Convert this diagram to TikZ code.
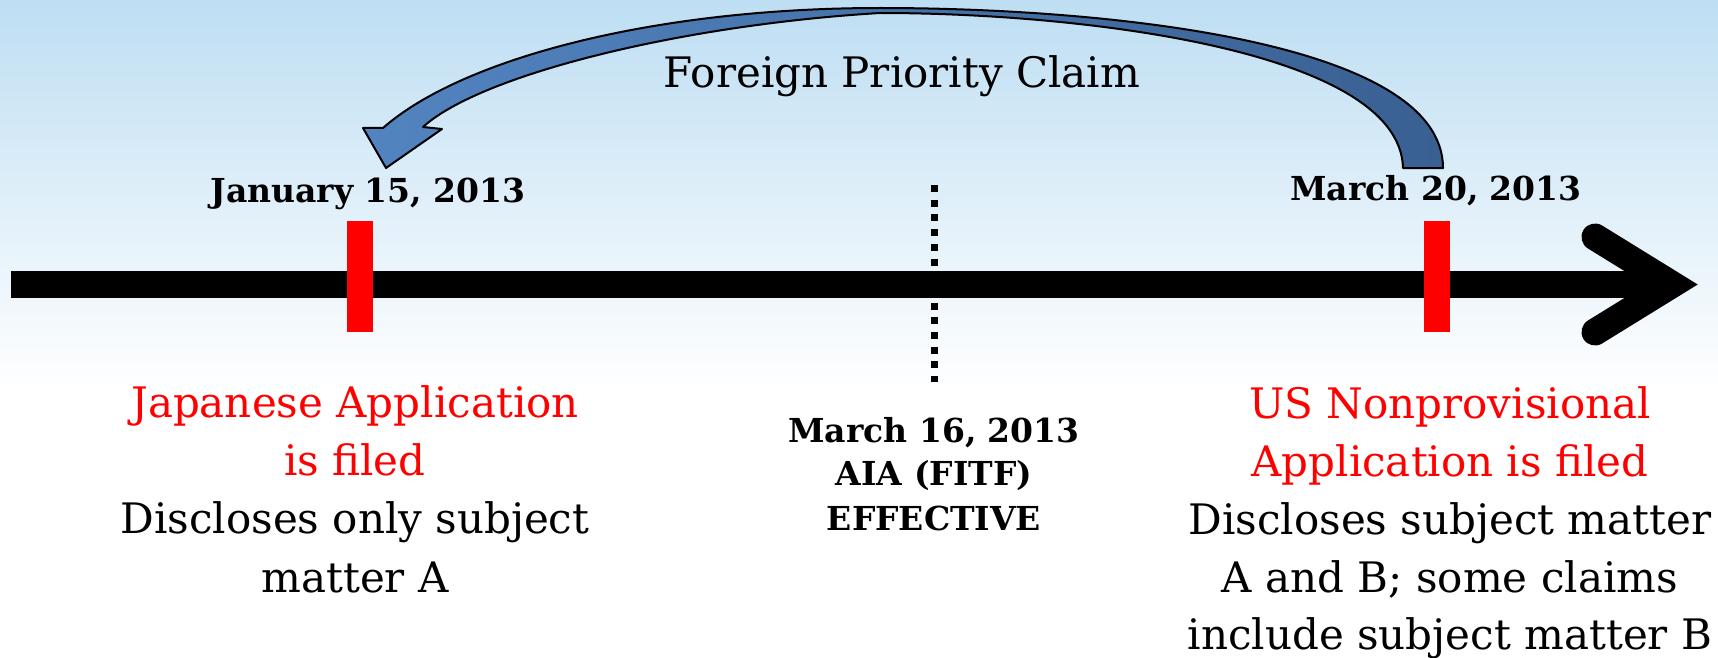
\documentclass[tikz,border=0pt]{standalone}
\usepackage{fontspec}
\setmainfont{DejaVu Serif}
\definecolor{bgtop}{RGB}{190,222,243}
\definecolor{arrowL}{RGB}{82,132,192}
\definecolor{arrowR}{RGB}{58,96,146}
\begin{document}
\begin{tikzpicture}[x=1pt,y=-1pt,
  lbl/.style={inner sep=0pt, anchor=base},
  body/.style={lbl, font=\fontsize{42}{50}\selectfont},
  redbody/.style={body, text=red},
  datebold/.style={lbl, font=\fontsize{33}{40}\selectfont\bfseries},
  tickmark/.style={fill=red, draw=none, minimum width=26pt, minimum height=111pt, inner sep=0pt}]
\useasboundingbox (0,0) rectangle (1718,658);
% background
\fill[white] (0,0) rectangle (1718,658);
\fill[top color=bgtop, bottom color=white] (0,0) rectangle (1718,390);

% dotted AIA line
\coordinate (dotT) at (934,185);
\coordinate (dotB) at (934,382);
\draw[line width=7pt, dash pattern=on 7pt off 7.7pt] (dotT) -- (dotB);

% timeline axis
\coordinate (axL) at (11,284.5);
\coordinate (axR) at (1672,284.5);
\draw[line width=27pt] (axL) -- (axR);
\coordinate (chevT) at (1595,237);
\coordinate (chevB) at (1595,332);
\draw[line width=27pt, line cap=round, line join=miter] (chevT) -- (axR) -- (chevB);

% ticks
\node[tickmark] (tick1) at (360,276.5) {};
\node[tickmark] (tick2) at (1436.5,276) {};

% curved arrow (foreign priority claim)
\coordinate (tailO) at (1443,168);
\coordinate (tailI) at (1403,168);
\coordinate (topO) at (880,8);
\coordinate (topI) at (880,13);
\coordinate (headO) at (383,128);
\coordinate (headL) at (363,128);
\coordinate (headTip) at (386,168);
\coordinate (headR) at (442,129);
\coordinate (headI) at (423,127);
\draw[line width=2pt, line join=round, left color=arrowL, right color=arrowR]
  (tailO) .. controls (1443,40) and (1100,8) .. (topO)
  .. controls (650,8) and (460,60) .. (headO)
  -- (headL) -- (headTip) -- (headR) -- (headI)
  .. controls (480,75) and (680,25) .. (topI)
  .. controls (1080,13) and (1400,50) .. (tailI)
  -- cycle;
\node[body] (fpc) at (902,88) {Foreign Priority Claim};

% dates
\node[datebold] (d1) at (368,202) {January 15, 2013};
\node[datebold] (d2) at (1436,200) {March 20, 2013};
\node[datebold] (m1) at (934,442) {March 16, 2013};
\node[datebold] (m2) at (934,485) {AIA (FITF)};
\node[datebold] (m3) at (934,530) {EFFECTIVE};

% left block
\node[redbody] (l1) at (355,417) {Japanese Application};
\node[redbody] (l2) at (355,475) {is filed};
\node[body] (l3) at (355,533) {Discloses only subject};
\node[body] (l4) at (355,592) {matter A};

% right block
\node[redbody] (r1) at (1450,418) {US Nonprovisional};
\node[redbody] (r2) at (1450,476) {Application is filed};
\node[body] (r3) at (1450,534) {Discloses subject matter};
\node[body] (r4) at (1450,592) {A and B; some claims};
\node[body] (r5) at (1450,649) {include subject matter B};
\end{tikzpicture}
\end{document}
